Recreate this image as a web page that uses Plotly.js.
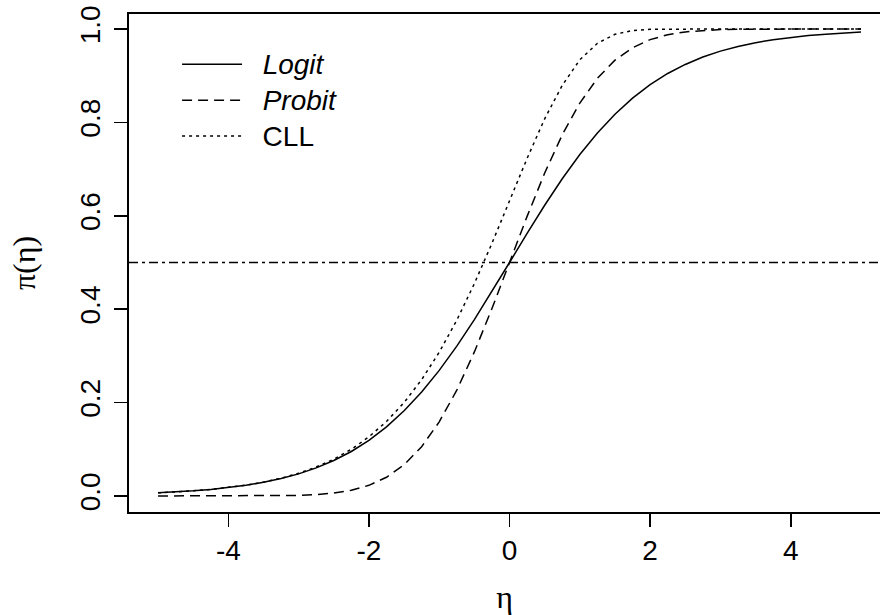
<!DOCTYPE html>
<html>
<head>
<meta charset="utf-8">
<script src="https://cdn.plot.ly/plotly-3.0.1.min.js"></script>
<style>
  html, body { margin: 0; padding: 0; background: #ffffff; }
  #chart { width: 880px; height: 615px; }
</style>
</head>
<body>
<div id="chart"></div>
<script>
// Linear predictor grid
const eta = [-5, -4.75, -4.5, -4.25, -4, -3.75, -3.5, -3.25, -3, -2.75, -2.5, -2.25,
             -2, -1.75, -1.5, -1.25, -1, -0.75, -0.5, -0.25, 0, 0.25, 0.5, 0.75,
             1, 1.25, 1.5, 1.75, 2, 2.25, 2.5, 2.75, 3, 3.25, 3.5, 3.75,
             4, 4.25, 4.5, 4.75, 5];

// Response probability under each link
const logitP = [0.0067, 0.0086, 0.0110, 0.0140, 0.0180, 0.0230, 0.0293, 0.0373, 0.0474, 0.0601, 0.0759, 0.0953,
                0.1192, 0.1480, 0.1824, 0.2227, 0.2689, 0.3208, 0.3775, 0.4378, 0.5000, 0.5622, 0.6225, 0.6792,
                0.7311, 0.7773, 0.8176, 0.8520, 0.8808, 0.9047, 0.9241, 0.9399, 0.9526, 0.9627, 0.9707, 0.9770,
                0.9820, 0.9860, 0.9890, 0.9914, 0.9933];

const probitP = [0.0000, 0.0000, 0.0000, 0.0000, 0.0000, 0.0001, 0.0002, 0.0006, 0.0013, 0.0030, 0.0062, 0.0122,
                 0.0228, 0.0401, 0.0668, 0.1056, 0.1587, 0.2266, 0.3085, 0.4013, 0.5000, 0.5987, 0.6915, 0.7734,
                 0.8413, 0.8944, 0.9332, 0.9599, 0.9772, 0.9878, 0.9938, 0.9970, 0.9987, 0.9994, 0.9998, 0.9999,
                 1.0000, 1.0000, 1.0000, 1.0000, 1.0000];

const cllP = [0.0067, 0.0086, 0.0110, 0.0141, 0.0181, 0.0232, 0.0297, 0.0380, 0.0486, 0.0620, 0.0788, 0.1000,
              0.1266, 0.1595, 0.2000, 0.2491, 0.3078, 0.3765, 0.4548, 0.5410, 0.6321, 0.7229, 0.8077, 0.8793,
              0.9340, 0.9694, 0.9887, 0.9968, 0.9994, 0.9999, 1.0000, 1.0000, 1.0000, 1.0000, 1.0000, 1.0000,
              1.0000, 1.0000, 1.0000, 1.0000, 1.0000];

const seriesNames = ['<i>Logit</i>', '<i>Probit</i>', 'CLL'];
const refLevel = 0.5;

const xTicks = [-4, -2, 0, 2, 4];
const xTickText = ['-4', '-2', '0', '2', '4'];
const yTicks = [0, 0.2, 0.4, 0.6, 0.8, 1.0];
const yTickText = ['0.0', '0.2', '0.4', '0.6', '0.8', '1.0'];

const sans = 'Liberation Sans, Arial, sans-serif';
const serif = 'Liberation Serif, Times New Roman, serif';

// Legend labels: slightly larger glyphs than the row pitch implies, with a gap after the key
function legendLabel(s) {
  return '<span style="font-size:28px">\u00a0\u00a0' + s + '</span>';
}

const traces = [
  { x: eta, y: logitP, name: legendLabel(seriesNames[0]), mode: 'lines',
    line: { color: '#000000', width: 1.5, dash: 'solid' } },
  { x: eta, y: probitP, name: legendLabel(seriesNames[1]), mode: 'lines',
    line: { color: '#000000', width: 1.5, dash: '10px,6px' } },
  { x: eta, y: cllP, name: legendLabel(seriesNames[2]), mode: 'lines',
    line: { color: '#000000', width: 1.5, dash: '3px,4px' } }
];

const layout = {
  width: 880,
  height: 615,
  margin: { l: 129, r: 0, t: 14, b: 103 },
  paper_bgcolor: '#ffffff',
  plot_bgcolor: '#ffffff',
  font: { family: sans, size: 28, color: '#000000' },
  showlegend: true,
  legend: {
    x: 0.064, y: 0.945, xanchor: 'left', yanchor: 'top',
    bgcolor: 'rgba(0,0,0,0)', borderwidth: 0,
    itemwidth: 60,
    font: { family: sans, size: 25.3, color: '#000000' },
    tracegroupgap: 0
  },
  xaxis: {
    range: [-5.413, 5.270],
    tickvals: xTicks, ticktext: xTickText,
    ticks: 'outside', ticklen: 13, tickwidth: 1.6, tickcolor: '#000000',
    showline: true, linecolor: '#000000', linewidth: 1.8, mirror: true,
    showgrid: false, zeroline: false,
    tickfont: { family: sans, size: 28, color: '#000000' },
    title: { text: 'η', font: { family: serif, size: 32, color: '#000000' }, standoff: 24 }
  },
  yaxis: {
    range: [-0.0343, 1.0321],
    tickvals: yTicks, ticktext: yTickText, tickangle: -90,
    ticks: 'outside', ticklen: 13, tickwidth: 1.6, tickcolor: '#000000',
    showline: true, linecolor: '#000000', linewidth: 1.8, mirror: false,
    showgrid: false, zeroline: false,
    ticklabelstandoff: 3,
    tickfont: { family: sans, size: 28, color: '#000000' },
    title: { text: 'π(η)', font: { family: serif, size: 32, color: '#000000' }, standoff: 30 }
  },
  shapes: [
    { type: 'line', xref: 'paper', yref: 'y', x0: 0, x1: 1, y0: refLevel, y1: refLevel,
      line: { color: '#000000', width: 1.5, dash: '9px,4px,3px,4px' } }
  ]
};

Plotly.newPlot('chart', traces, layout, { staticPlot: true, displayModeBar: false });
</script>
</body>
</html>
